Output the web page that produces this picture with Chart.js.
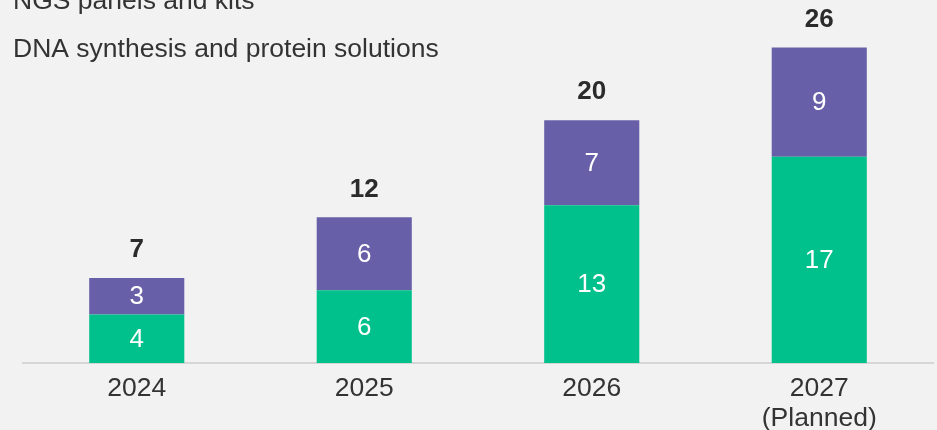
<!DOCTYPE html>
<html>
<head>
<meta charset="utf-8">
<script src="https://cdn.jsdelivr.net/npm/chart.js@4"></script>
<style>
  html, body { margin: 0; padding: 0; background: #f2f2f2; }
  #wrap { position: relative; width: 937px; height: 430px; }
</style>
</head>
<body>
<div id="wrap"><canvas id="chart" width="937" height="430"></canvas></div>
<script>
// values
const years = [['2024'], ['2025'], ['2026'], ['2027', '(Planned)']];
const ngsKits = [4, 6, 13, 17];
const dnaProtein = [3, 6, 7, 9];
const totals = [7, 12, 20, 26];
const seriesNames = ['NGS panels and kits', 'DNA synthesis and protein solutions'];

const COLORS = {
  ngs: '#00c08b',
  dna: '#6760a8',
  text: '#333333',
  axis: '#d6d6d6',
};
const FONT = '"Liberation Sans", Arial, Helvetica, sans-serif';

// legend lines and bar labels (inside white, totals bold above)
const labelsPlugin = {
  id: 'barLabels',
  afterDatasetsDraw(chart) {
    const { ctx } = chart;
    ctx.save();
    ctx.textAlign = 'center';
    ctx.textBaseline = 'middle';
    ctx.font = `26px ${FONT}`;
    ctx.fillStyle = '#ffffff';
    chart.data.datasets.forEach((ds, di) => {
      chart.getDatasetMeta(di).data.forEach((bar, i) => {
        ctx.fillText(String(ds.data[i]), bar.x, (bar.y + bar.base) / 2 + 1);
      });
    });
    const top = chart.getDatasetMeta(1).data;
    ctx.font = `bold 26px ${FONT}`;
    ctx.fillStyle = '#2b2b2b';
    top.forEach((bar, i) => {
      ctx.fillText(String(totals[i]), bar.x, bar.y - 28);
    });

    ctx.textAlign = 'left';
    ctx.textBaseline = 'alphabetic';
    ctx.font = `26.5px ${FONT}`;
    ctx.fillStyle = COLORS.text;
    ctx.fillText(seriesNames[0], 13, 9);
    ctx.fillText(seriesNames[1], 13, 57);
    ctx.restore();
  },
};

new Chart(document.getElementById('chart'), {
  type: 'bar',
  data: {
    labels: years,
    datasets: [
      { label: seriesNames[0], data: ngsKits, backgroundColor: COLORS.ngs },
      { label: seriesNames[1], data: dnaProtein, backgroundColor: COLORS.dna },
    ],
  },
  plugins: [labelsPlugin],
  options: {
    responsive: false,
    animation: false,
    layout: { padding: { left: 23, right: 4, top: 5, bottom: 0 } },
    datasets: { bar: { categoryPercentage: 1, barPercentage: 0.418 } },
    plugins: { legend: { display: false }, tooltip: { enabled: false } },
    scales: {
      x: {
        stacked: true,
        grid: { display: false, drawTicks: false },
        border: { display: true, color: COLORS.axis, width: 2 },
        ticks: { color: COLORS.text, font: { family: FONT, size: 26.5, lineHeight: 1.12 }, padding: 11, maxRotation: 0 },
        afterFit: (scale) => { scale.height = 67; },
      },
      y: {
        stacked: true,
        display: false,
        min: 0,
        max: 29.5,
      },
    },
  },
});
</script>
</body>
</html>
